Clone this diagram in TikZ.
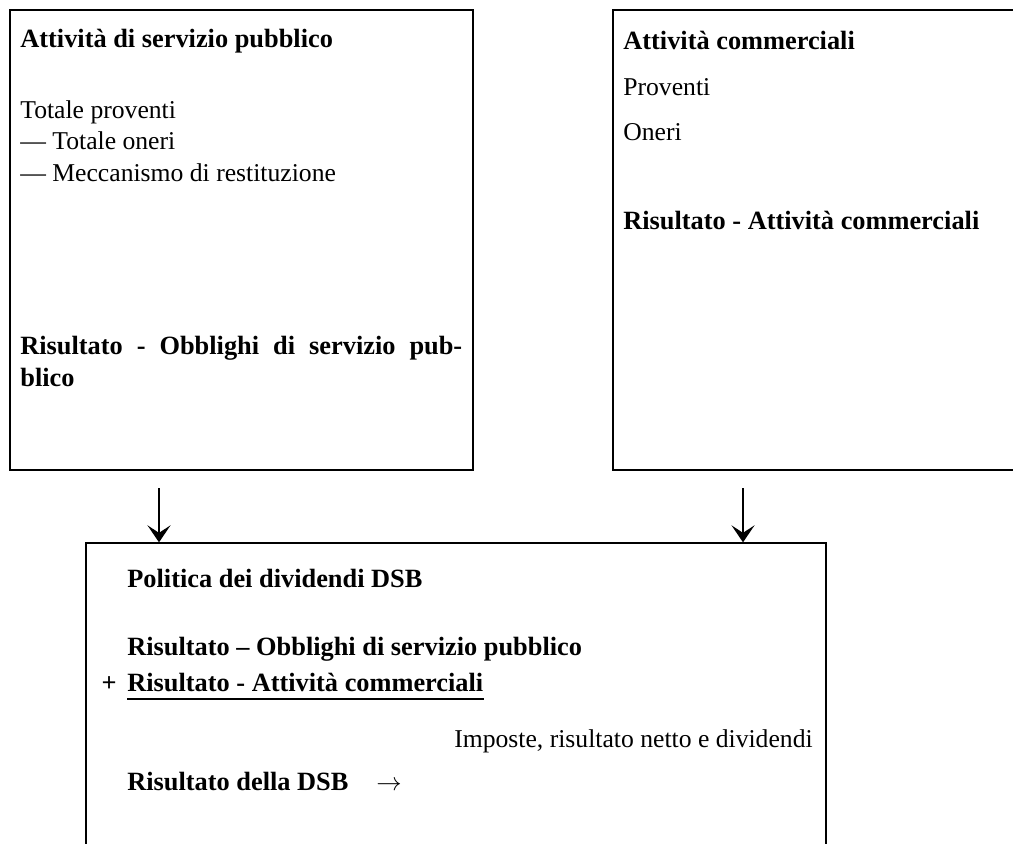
\documentclass[tikz,border=0pt]{standalone}
\usepackage{fontspec}
\setmainfont{Liberation Serif}
\usetikzlibrary{arrows.meta,positioning}

\begin{document}
\begin{tikzpicture}[x=0.02cm, y=-0.02cm, >={Stealth[length=3.4mm,width=4.6mm,inset=1.5mm]},
  box/.style={draw, line width=0.8pt, inner sep=0pt},
  hdr/.style={font=\fontsize{15}{18}\selectfont\bfseries, anchor=base west, inner sep=0pt},
  txt/.style={font=\fontsize{14.6}{18}\selectfont, anchor=base west, inner sep=0pt}]
  \useasboundingbox (0,0) rectangle (1013,843);
  \clip (0,0) rectangle (1013,843);
  % the three boxes
  \node[box, minimum width=9.26cm, minimum height=9.2cm] (pso) at (241.5,240) {};
  \node[box, minimum width=8.54cm, minimum height=9.2cm] (comm) at (826.5,240) {};
  \node[box, minimum width=14.8cm, minimum height=7.14cm] (dsb) at (456,721.5) {};
  % public service box
  \node[hdr] (psotitle) at (20,47) {Attività di servizio pubblico};
  \node[txt] (psoinc) at (20,118) {Totale proventi};
  \node[txt] (psocost) at (20,149) {— Totale oneri};
  \node[txt] (psoback) at (20,181) {— Meccanismo di restituzione};
  \node[hdr, anchor=north west, text width=8.84cm, align=justify] (psores) at (20,336)
    {Risultato - Obblighi di servizio pub-\linebreak blico};
  % commercial box
  \node[hdr] (commtitle) at (623,49) {Attività commerciali};
  \node[txt] (comminc) at (623,95) {Proventi};
  \node[txt] (commcost) at (623,140) {Oneri};
  \node[hdr] (commres) at (623,229) {Risultato - Attività commerciali};
  % dividend box
  \node[hdr] (divtitle) at (127,587) {Politica dei dividendi DSB};
  \node[hdr] (divpso) at (127,655) {Risultato – Obblighi di servizio pubblico};
  \node[hdr] (divcomm) at (127,691) {Risultato - Attività commerciali};
  \node[hdr, anchor=base east] (plus) at ([xshift=-2mm]divcomm.base west) {+};
  \draw[line width=0.8pt] ([yshift=-1.6mm]divcomm.base west) -- ([yshift=-1.6mm]divcomm.base east);
  \node[txt, anchor=base east] (divtax) at (813,747) {Imposte, risultato netto e dividendi};
  \node[hdr] (divres) at (127,790) {Risultato della DSB};
  \node[txt, anchor=base west] (divarrow) at (376,790) {$\rightarrow$};
  % arrows into the dividend box
  \coordinate (lin) at (159,488);
  \coordinate (rin) at (743,488);
  \draw[->, line width=1.2pt] (lin) -- (lin |- dsb.north);
  \draw[->, line width=1.2pt] (rin) -- (rin |- dsb.north);
\end{tikzpicture}
\end{document}
